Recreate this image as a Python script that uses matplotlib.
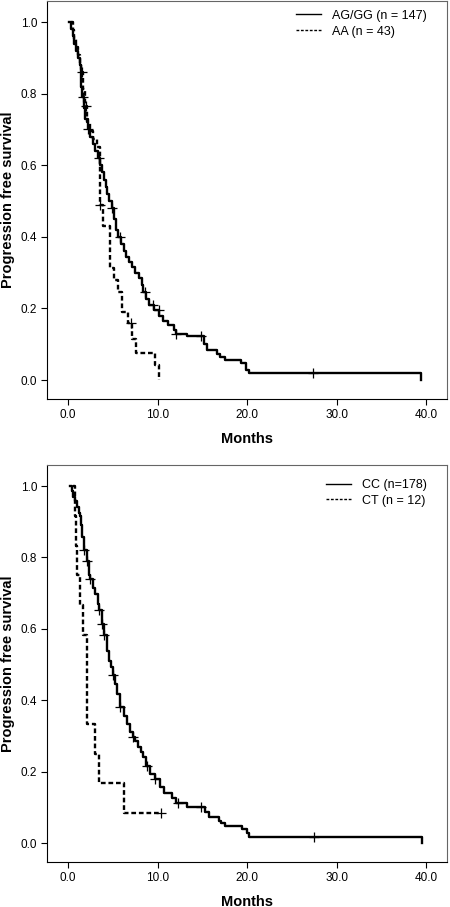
import matplotlib
matplotlib.use("Agg")
import matplotlib.pyplot as plt
from matplotlib.lines import Line2D
import numpy as np

plt.rcParams['font.family'] = ['Liberation Sans', 'DejaVu Sans']

# top panel: AG/GG vs AA
ag_times = [0.15, 0.3, 0.5, 0.7, 0.9, 1.1, 1.3, 1.4, 1.5, 1.6, 1.8, 1.9, 2.2, 2.5, 2.8, 3.0,
            3.3, 3.6, 3.8, 4.0, 4.2, 4.4, 4.6, 4.9, 5.1, 5.3, 5.6, 5.9, 6.2, 6.5, 6.8, 7.1,
            7.5, 7.9, 8.2, 8.4, 8.7, 9.0, 9.6, 10.2, 10.6, 11.2, 11.8, 12.1, 13.3, 15.2,
            15.5, 16.6, 17.0, 17.5, 19.3, 19.9, 20.2, 39.4]
ag_surv = [1.0, 0.98, 0.96, 0.94, 0.92, 0.90, 0.88, 0.85, 0.82, 0.79, 0.76, 0.73, 0.70, 0.68,
           0.66, 0.64, 0.62, 0.60, 0.58, 0.56, 0.54, 0.52, 0.50, 0.48, 0.45, 0.42, 0.40, 0.38,
           0.36, 0.345, 0.33, 0.315, 0.30, 0.285, 0.265, 0.245, 0.225, 0.21, 0.195, 0.18,
           0.165, 0.155, 0.14, 0.13, 0.123, 0.102, 0.084, 0.074, 0.065, 0.056, 0.047, 0.028,
           0.02, 0.0]
ag_cens = [1.64, 2.27, 3.4, 4.9, 5.8, 8.6, 9.5, 10.1, 12.1, 14.8, 27.3]

aa_times = [0.3, 0.5, 0.7, 0.9, 1.1, 1.3, 1.5, 1.7, 1.9, 2.1, 2.4, 2.8, 3.2, 3.6, 3.9, 4.7,
            5.14, 5.6, 6.0, 6.74, 7.1, 7.56, 9.72, 10.2]
aa_surv = [1.0, 0.977, 0.953, 0.93, 0.907, 0.884, 0.86, 0.814, 0.767, 0.72, 0.697, 0.674,
           0.651, 0.49, 0.43, 0.313, 0.28, 0.247, 0.19, 0.158, 0.116, 0.076, 0.042, 0.0]
aa_cens = [1.6, 2.0, 3.6, 7.0]

# bottom panel: CC vs CT
cc_times = [0.22, 0.4, 0.6, 0.78, 1.0, 1.2, 1.34, 1.45, 1.6, 1.8, 2.1, 2.3, 2.5, 2.8, 3.0,
            3.3, 3.5, 3.76, 4.0, 4.3, 4.6, 4.77, 5.0, 5.2, 5.44, 5.8, 6.2, 6.55, 6.9, 7.2,
            7.5, 7.86, 8.1, 8.4, 8.7, 9.1, 9.7, 10.28, 10.7, 11.6, 12.0, 13.3, 15.3, 15.7,
            16.8, 17.1, 17.5, 19.4, 19.97, 20.2, 39.5]
cc_surv = [1.0, 0.985, 0.97, 0.958, 0.94, 0.925, 0.916, 0.89, 0.856, 0.82, 0.79, 0.75, 0.74,
           0.715, 0.697, 0.67, 0.653, 0.614, 0.583, 0.539, 0.51, 0.492, 0.47, 0.445, 0.418,
           0.38, 0.355, 0.334, 0.31, 0.298, 0.285, 0.27, 0.255, 0.241, 0.215, 0.193, 0.18,
           0.157, 0.139, 0.125, 0.111, 0.101, 0.087, 0.072, 0.062, 0.055, 0.047, 0.04,
           0.027, 0.0176, 0.0]
cc_cens = [1.8, 2.1, 2.5, 3.5, 3.76, 4.0, 5.0, 5.8, 7.2, 8.8, 9.7, 12.3, 14.8, 27.4]

ct_times = [0.6, 0.75, 0.9, 1.0, 1.34, 1.7, 2.08, 3.0, 3.5, 6.2]
ct_surv = [1.0, 0.917, 0.833, 0.75, 0.667, 0.583, 0.333, 0.25, 0.167, 0.083]
ct_cens = [10.35]

panels = [
    (ag_times, ag_surv, ag_cens, 'AG/GG (n = 147)', aa_times, aa_surv, aa_cens, 'AA (n = 43)'),
    (cc_times, cc_surv, cc_cens, 'CC (n=178)', ct_times, ct_surv, ct_cens, 'CT (n = 12)'),
]
x_ticks = [0, 10, 20, 30, 40]
y_ticks = [0.0, 0.2, 0.4, 0.6, 0.8, 1.0]

solid = '-'
dashed = (0, (2.0, 1.2))


def km_line(ax, times, surv, cens, ls):
    t = list(times)
    s = list(surv)
    end = max(t[-1], max(cens))
    if end > t[-1]:
        t.append(end)
        s.append(s[-1])
    ax.step(t, s, where='post', color='black', lw=1.7, ls=ls)
    idx = np.searchsorted(times, cens, side='right') - 1
    cy = np.array(surv)[idx]
    ax.plot(cens, cy, ls='none', marker='+', ms=7, mew=0.9, color='black')


fig = plt.figure(figsize=(4.5, 9.07), dpi=100)
axes_pos = [[47 / 450, 1 - 399 / 907, 400 / 450, 398 / 907],
            [47 / 450, 1 - 862 / 907, 400 / 450, 397 / 907]]
leg_tops = [0.978, 0.965]

for pos, p, ltop in zip(axes_pos, panels, leg_tops):
    ax = fig.add_axes(pos)
    km_line(ax, p[0], p[1], p[2], solid)
    km_line(ax, p[4], p[5], p[6], dashed)
    ax.set_xlim(-2.35, 42.3)
    ax.set_ylim(-0.053, 1.059)
    ax.set_xticks(x_ticks)
    ax.set_xticklabels(['%.1f' % v for v in x_ticks])
    ax.set_yticks(y_ticks)
    ax.set_yticklabels(['%.1f' % v for v in y_ticks])
    ax.tick_params(direction='out', length=4, width=0.8, labelsize=8.5, pad=3)
    for side in ['top', 'right']:
        ax.spines[side].set_color('#666666')
    ax.set_xlabel('Months', fontsize=10.5, fontweight='bold', labelpad=8)
    ax.set_ylabel('Progression free survival', fontsize=10.5, fontweight='bold', labelpad=4)
    handles = [Line2D([], [], color='black', lw=1.0, ls=solid),
               Line2D([], [], color='black', lw=1.0, ls=dashed)]
    ax.legend(handles, [p[3], p[7]], loc='upper right', bbox_to_anchor=(0.95, ltop),
              frameon=False, fontsize=9, borderpad=0, borderaxespad=0, handlelength=2.0,
              handletextpad=0.9, labelspacing=0.3)

fig.savefig('out.png', dpi=100)
